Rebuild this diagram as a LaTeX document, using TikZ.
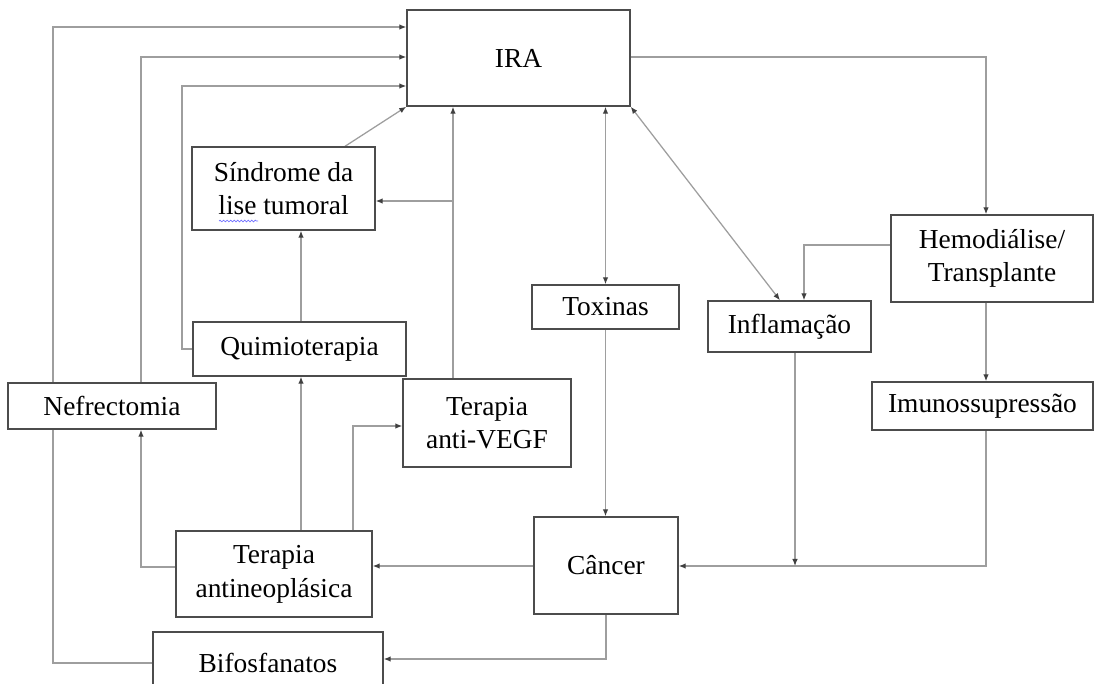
\documentclass[tikz,border=0pt]{standalone}
\usepackage{fontspec}
\setmainfont{Liberation Serif}
\usetikzlibrary{arrows.meta,decorations.pathmorphing}

\pgfdeclarelayer{bg}
\pgfsetlayers{bg,main}

\tikzset{
	box/.style={draw=black!70, line width=1pt, fill=white, inner sep=0pt, align=center,
		font=\fontsize{19.5}{24}\selectfont},
	conn/.style={draw=black!38, line width=0.9pt, arrows={-{Latex[length=5pt,width=4pt,color=black!75]}}},
	conntwo/.style={conn, arrows={{Latex[length=5pt,width=4pt,color=black!75]}-{Latex[length=5pt,width=4pt,color=black!75]}}},
	wh/.style 2 args={minimum width=#1*0.025cm, minimum height=#2*0.025cm}
}

\begin{document}
\begin{tikzpicture}[x=0.025cm, y=-0.025cm]
	\clip (0,0) rectangle (1103,683);
	\node[box, wh={223}{96}] (ira) at (518.5,58) {IRA};
	\node[box, wh={183}{83}] (sindrome) at (283.5,188.5) {Síndrome da\\lise tumoral};
	\node[box, wh={213}{54}] (quimio) at (299.5,349) {Quimioterapia};
	\node[box, wh={208}{46}] (nefre) at (112,406) {Nefrectomia};
	\node[box, wh={168}{88}] (vegf) at (487,423) {Terapia\\anti-VEGF};
	\node[box, wh={147}{44}] (toxinas) at (605.5,307) {Toxinas};
	\node[box, wh={163}{51}] (inflam) at (789.5,326.5) {Inflamação};
	\node[box, wh={202}{87}] (hemo) at (992,258.5) {Hemodiálise/\\Transplante};
	\node[box, wh={221}{48}] (imuno) at (982.5,406) {Imunossupressão};
	\node[box, wh={196}{86}] (antineo) at (274,574) {Terapia\\antineoplásica};
	\node[box, wh={144}{97}] (cancer) at (606,565.5) {Câncer};
	\node[box, wh={230}{62}] (bifos) at (268,663) {Bifosfanatos};
	% wavy underline under "lise"
	\draw[blue!55, line width=0.5pt, decorate, decoration={snake, amplitude=0.6pt, segment length=2.5pt}] (219,221) -- (258,221);

	\begin{pgfonlayer}{bg}
	% into IRA from the left
	\draw[conn] (bifos.west) -| (53,27) -- (ira.west |- 0,27);
	\draw[conn] (nefre.north -| 141,0) |- (ira.west |- 0,57);
	\draw[conn] (quimio.west) -| (182,86) -- (ira.west |- 0,86);
	\draw[conn] (sindrome.north -| 345,0) -- (ira.south west);
	\draw[conn] (vegf.north -| 453,0) -- (ira.south -| 453,0);
	\draw[conn] (453,201) -- (sindrome.east |- 0,201);
	% IRA and the right side
	\draw[conntwo] (toxinas.north) -- (ira.south -| toxinas.north);
	\draw[conntwo] (ira.south east) -- (inflam.north -| 780,0);
	\draw[conn] (ira.east |- 0,57) -| (hemo.north -| 986,0);
	\draw[conn] (hemo.west |- 0,245) -| (inflam.north -| 804,0);
	\draw[conn] (hemo.south -| 986,0) -- (imuno.north -| 986,0);
	\draw[conn] (imuno.south -| 986,0) |- (cancer.east |- 0,566);
	\draw[conn] (inflam.south -| 795,0) -- (795,566);
	\draw[conn] (toxinas.south) -- (cancer.north -| toxinas.south);
	% from cancer
	\draw[conn] (cancer.west |- 0,566) -- (antineo.east |- 0,566);
	\draw[conn] (cancer.south) |- (bifos.east |- 0,659);
	% therapies
	\draw[conn] (antineo.west |- 0,567) -| (nefre.south -| 141,0);
	\draw[conn] (antineo.north -| 301,0) -- (quimio.south -| 301,0);
	\draw[conn] (antineo.north -| 353,0) |- (vegf.west |- 0,426);
	\draw[conn] (quimio.north -| 301,0) -- (sindrome.south -| 301,0);
	\end{pgfonlayer}
\end{tikzpicture}
\end{document}
